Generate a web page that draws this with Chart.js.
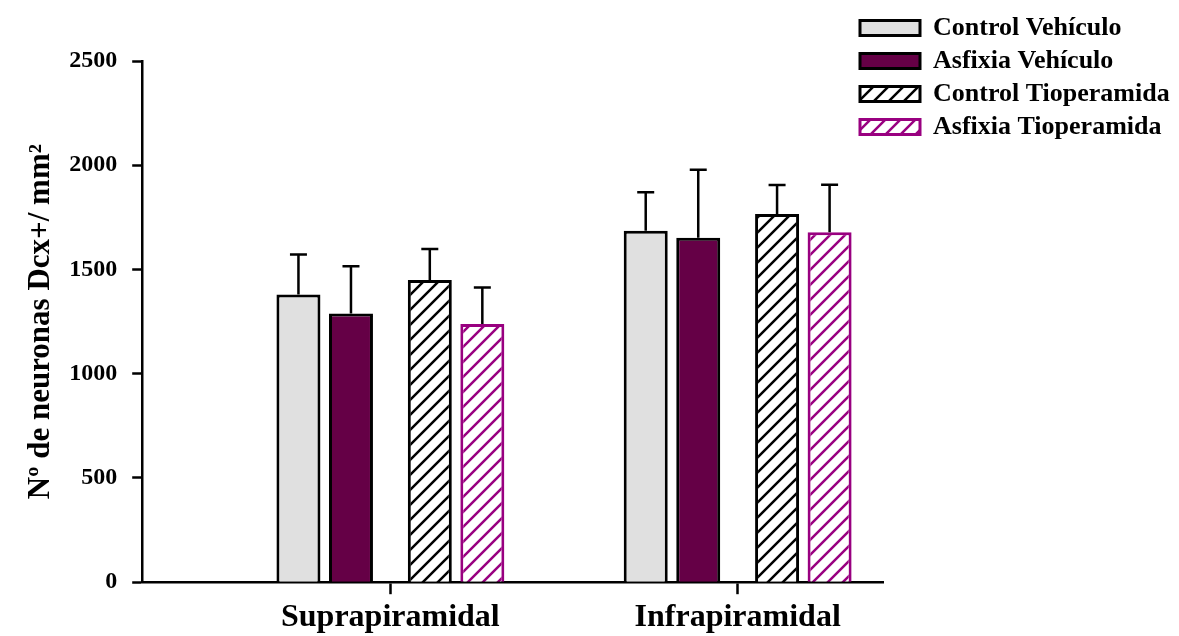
<!DOCTYPE html>
<html>
<head>
<meta charset="utf-8">
<script src="https://cdn.jsdelivr.net/npm/chart.js@4.4.1/dist/chart.umd.min.js"></script>
<style>
  html, body { margin: 0; padding: 0; background: #fff; }
  #wrap { width: 1179px; height: 636px; }
</style>
</head>
<body>
<div id="wrap"><canvas id="myBarChart"></canvas></div>
<script>
// data
const regions = ['Suprapiramidal', 'Infrapiramidal'];
const seriesNames = ['Control Vehículo', 'Asfixia Vehículo', 'Control Tioperamida', 'Asfixia Tioperamida'];
const controlVehiculo = [1380, 1686];
const asfixiaVehiculo = [1289, 1652];
const controlTioperamida = [1449, 1766];
const asfixiaTioperamida = [1238, 1678];
const errControlVehiculo = [192, 185];
const errAsfixiaVehiculo = [227, 326];
const errControlTioperamida = [149, 139];
const errAsfixiaTioperamida = [176, 228];
const yTicks = [0, 500, 1000, 1500, 2000, 2500];

const ctx = document.getElementById('myBarChart').getContext('2d');

// diagonal hatch fill
function makeHatch(color) {
    const size = 15;
    const c = document.createElement('canvas');
    c.width = size;
    c.height = size;
    const g = c.getContext('2d');
    g.fillStyle = '#ffffff';
    g.fillRect(0, 0, size, size);
    g.strokeStyle = color;
    g.lineWidth = 2.5;
    g.beginPath();
    g.moveTo(0, size); g.lineTo(size, 0);
    g.moveTo(-2, 2); g.lineTo(2, -2);
    g.moveTo(size - 2, size + 2); g.lineTo(size + 2, size - 2);
    g.stroke();
    return ctx.createPattern(c, 'repeat');
}

const purple = '#990080';
const values = [controlVehiculo, asfixiaVehiculo, controlTioperamida, asfixiaTioperamida];
const errors = [errControlVehiculo, errAsfixiaVehiculo, errControlTioperamida, errAsfixiaTioperamida];
const fills = ['#e0e0e0', '#650046', makeHatch('#000000'), makeHatch(purple)];
const borders = ['#000000', '#000000', '#000000', purple];
// outer pair sits further from the group centre than the inner pair
const catPct = [0.706, 0.908, 0.908, 0.706];
const barPct = [0.718, 0.558, 0.558, 0.718];

const datasets = seriesNames.map((name, i) => ({
    label: name,
    data: values[i].map((v, j) => ({ x: j + 1, y: v })),
    backgroundColor: fills[i],
    borderColor: borders[i],
    borderWidth: 3,
    categoryPercentage: catPct[i],
    barPercentage: barPct[i],
}));

// error bars (upper half only)
const errorBars = {
    id: 'errorBars',
    afterDatasetsDraw(chart) {
        const c = chart.ctx;
        const yScale = chart.scales.y;
        c.save();
        c.strokeStyle = '#000';
        c.lineWidth = 2.5;
        datasets.forEach((ds, i) => {
            const meta = chart.getDatasetMeta(i);
            meta.data.forEach((bar, j) => {
                const top = yScale.getPixelForValue(values[i][j] + errors[i][j]);
                c.beginPath();
                c.moveTo(bar.x, bar.y);
                c.lineTo(bar.x, top);
                c.moveTo(bar.x - 8.5, top);
                c.lineTo(bar.x + 8.5, top);
                c.stroke();
            });
        });
        c.restore();
    }
};

// let the legend reach over the right end of the x axis, as in the figure
const widenLegend = {
    id: 'widenLegend',
    afterLayout(chart) {
        const lg = chart.legend;
        lg.left = 853;
        lg.right = chart.width;
        lg.width = lg.right - lg.left;
    }
};

Chart.defaults.font.family = "'Liberation Serif', 'Times New Roman', serif";
Chart.defaults.color = '#000';

const myBarChart = new Chart(ctx, {
    type: 'bar',
    data: { datasets },
    options: {
        responsive: true,
        maintainAspectRatio: false,
        animation: false,
        layout: { padding: { top: 8, left: 22, right: 8, bottom: -5 } },
        plugins: {
            tooltip: { enabled: false },
            legend: {
                position: 'right',
                align: 'start',
                labels: {
                    boxWidth: 60,
                    boxHeight: 15,
                    padding: 7,
                    font: { size: 26, weight: 'bold' },
                },
            },
        },
        scales: {
            x: {
                type: 'linear',
                offset: false,
                min: 0.2853,
                max: 2.4207,
                afterBuildTicks: (axis) => {
                    axis.ticks = regions.map((r, i) => ({ value: i + 1 }));
                },
                ticks: {
                    font: { size: 32, weight: 'bold', lineHeight: 1.15 },
                    padding: 5,
                    callback: (v) => regions[v - 1],
                },
                grid: {
                    offset: false,
                    drawOnChartArea: false,
                    tickLength: 12,
                    tickWidth: 2.5,
                    tickColor: '#000',
                },
                border: { color: '#000', width: 2.5 },
            },
            y: {
                min: 0,
                max: 2500,
                afterBuildTicks: (axis) => {
                    axis.ticks = yTicks.map((v) => ({ value: v }));
                },
                afterFit: (axis) => {
                    axis.paddingTop = 61;
                },
                ticks: {
                    font: { size: 24, weight: 'bold' },
                    padding: 15,
                    callback: (v) => String(v),
                },
                grid: {
                    drawOnChartArea: false,
                    tickLength: 10,
                    tickWidth: 2.5,
                    tickColor: '#000',
                },
                border: { color: '#000', width: 2.5 },
                title: {
                    display: true,
                    text: 'Nº de neuronas Dcx+/ mm²',
                    font: { size: 31, weight: 'bold' },
                    padding: { top: 0, bottom: -5 },
                },
            },
        },
    },
    plugins: [errorBars, widenLegend],
});
</script>
</body>
</html>
